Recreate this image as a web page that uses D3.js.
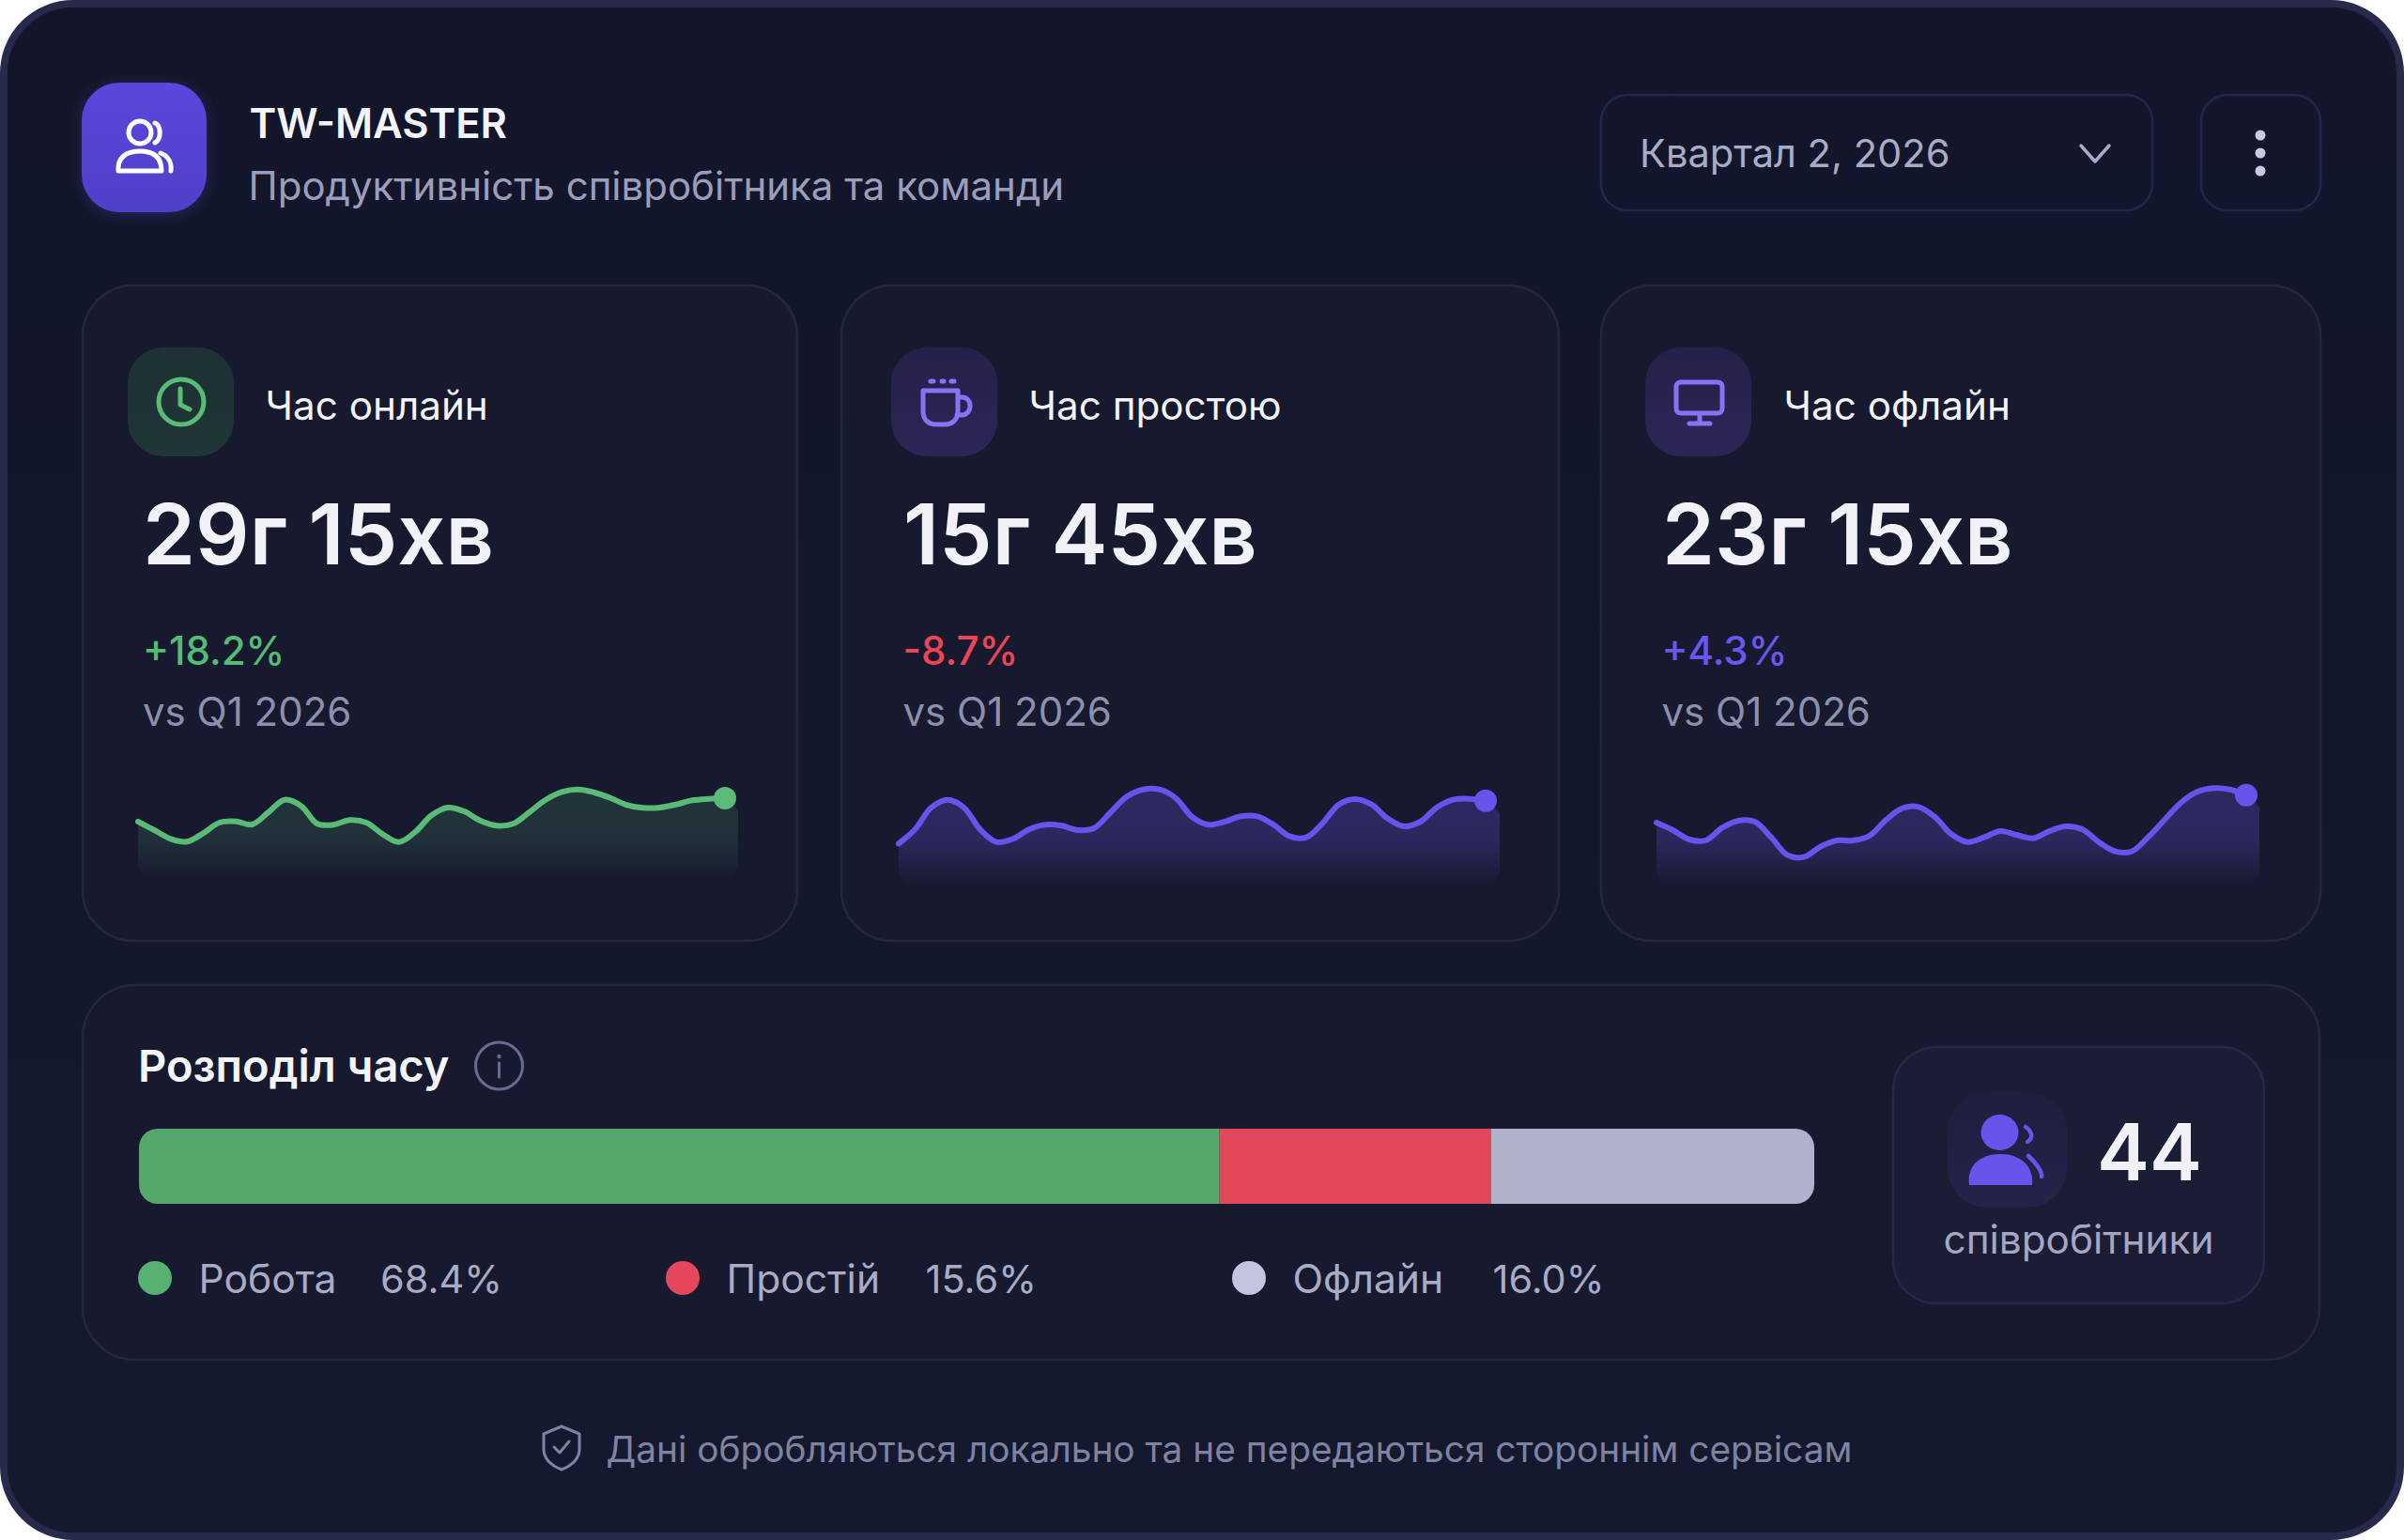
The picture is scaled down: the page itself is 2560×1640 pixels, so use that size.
<!DOCTYPE html>
<html>
<head>
<meta charset="utf-8">
<title>TW-MASTER</title>
<script src="https://cdn.jsdelivr.net/npm/d3@7"></script>
<style>
  html, body { margin: 0; padding: 0; background: #fff; }
  svg { display: block; }
  text { font-family: Inter, "Noto Sans", sans-serif; }
</style>
</head>
<body>
<div id="chart"></div>
<script>
// header texts
const appName = "TW-MASTER"
const appSubtitle = "Продуктивність співробітника та команди"
const periodLabel = "Квартал 2, 2026"

// cards
const cardNames = ["Час онлайн", "Час простою", "Час офлайн"]
const cardValues = ["29г 15хв", "15г 45хв", "23г 15хв"]
const cardDeltas = ["+18.2%", "-8.7%", "+4.3%"]
const compareLabel = "vs Q1 2026"

// sparkline levels, 37 samples each
const onlineTrend = [65, 56, 46.7, 43.7, 52.7, 64, 65.3, 62, 75, 88.3, 81.7, 62.7, 61.7, 66.7, 64, 51.7, 43.3, 54, 71.7, 80, 76, 66, 60.7, 62.7, 75, 88.3, 96.7, 99.3, 96, 90, 82.7, 79.7, 80, 83.3, 87.7, 89.3, 90]
const idleTrend = [41.7, 56.7, 80, 88.3, 80, 56.7, 43.3, 46.7, 56.7, 61.7, 60.7, 56, 58.3, 75, 91.7, 99.3, 99.3, 90, 70, 61.7, 65, 70.7, 70.7, 61.7, 49.3, 48.3, 63.3, 83.3, 89, 83.3, 68.3, 60, 65, 80, 88.3, 89.3, 87.3]
const offlineTrend = [64, 56, 46, 45, 58.3, 66, 65, 48.3, 29.3, 27.3, 38.3, 45, 45, 50, 66.7, 79.3, 80.7, 70, 51.7, 43.3, 48.3, 55, 50.7, 47.3, 55, 60, 56.7, 43.3, 33.3, 33.3, 48.3, 66.7, 85, 96.7, 100.7, 99.3, 93.3]

// time split. the drawn bar does not follow the printed percentages, so both are kept
const splitTitle = "Розподіл часу"
const splitNames = ["Робота", "Простій", "Офлайн"]
const splitLabels = ["68.4%", "15.6%", "16.0%"]
const barShares = [64.5, 16.2, 19.3]

const employeeCount = "44"
const employeeLabel = "співробітники"
const footerNote = "Дані обробляються локально та не передаються стороннім сервісам"

const W = 2560, H = 1640
const GREEN = "#5abb76", RED = "#e2475a", GREY = "#b0b1cb", PURPLE = "#6654ec", ICON = "#8674f6"

const svg = d3.select("#chart").append("svg").attr("width", W).attr("height", H).attr("viewBox", `0 0 ${W} ${H}`)
const defs = svg.append("defs")

const vGrad = (id, top, bottom) => {
  const g = defs.append("linearGradient").attr("id", id).attr("x1", 0).attr("y1", 0).attr("x2", 0).attr("y2", 1)
  g.append("stop").attr("offset", "0%").attr("stop-color", top)
  g.append("stop").attr("offset", "100%").attr("stop-color", bottom)
}
vGrad("bgGrad", "#13162a", "#15192e")
vGrad("logoGrad", "#5a47dc", "#4f40c9")
vGrad("iconGreen", "#1e3135", "#203536")
vGrad("iconPurple", "#242149", "#2c2657")
vGrad("iconPeople", "#1e1e3d", "#25234b")

defs.append("filter").attr("id", "logoGlow").attr("x", "-30%").attr("y", "-30%").attr("width", "160%").attr("height", "160%")
  .append("feGaussianBlur").attr("stdDeviation", 7)

const label = (parent, x, y, str, size, weight, fill, anchor = "start") =>
  parent.append("text").attr("x", x).attr("y", y).attr("font-size", size).attr("font-weight", weight)
    .attr("fill", fill).attr("text-anchor", anchor).text(str)

const box = (parent, x, y, w, h, r, fill, stroke) =>
  parent.append("rect").attr("x", x).attr("y", y).attr("width", w).attr("height", h).attr("rx", r)
    .attr("fill", fill).attr("stroke", stroke || "none").attr("stroke-width", stroke ? 2.5 : 0)

const outline = (parent, d, color, width) =>
  parent.append("path").attr("d", d).attr("fill", "none").attr("stroke", color).attr("stroke-width", width)
    .attr("stroke-linecap", "round").attr("stroke-linejoin", "round")

// outer shell
svg.append("rect").attr("x", 4).attr("y", 4).attr("width", W - 8).attr("height", H - 8).attr("rx", 74)
  .attr("fill", "url(#bgGrad)").attr("stroke", "#282a4c").attr("stroke-width", 8)

// header
const header = svg.append("g")
box(header, 87, 90, 133, 138, 40, "#4f40c9").attr("opacity", 0.35).attr("filter", "url(#logoGlow)")
box(header, 87, 88, 133, 138, 40, "url(#logoGrad)")
header.append("circle").attr("cx", 149).attr("cy", 141).attr("r", 12).attr("fill", "none").attr("stroke", "#fff").attr("stroke-width", 5)
outline(header, "M126 182 C125 168 134 161 149 161 C164 161 172 168 172 182 Z", "#fff", 5)
outline(header, "M165 131 C172 134 172 148 165 152", "#fff", 5)
outline(header, "M171 163 C179 166 183 173 182 182", "#fff", 5)
label(header, 265.5, 147, appName, 43.5, 600, "#f4f5fb")
label(header, 264.5, 213, appSubtitle, 42, 400, "#9b9ebb")

box(header, 1705, 101, 587, 123, 28, "none", "#23264a")
label(header, 1746, 178, periodLabel, 41.6, 400, "#a9acc6")
outline(header, "M2216 155 L2231 172 L2246 155", "#a9acc6", 3.5)

box(header, 2344, 101, 127, 123, 28, "none", "#23264a")
header.selectAll(".menu-dot").data([144, 163, 182]).join("circle")
  .attr("class", "menu-dot").attr("cx", 2407).attr("cy", d => d).attr("r", 5.5).attr("fill", "#c9cbe4")

// stat cards
const trends = [onlineTrend, idleTrend, offlineTrend]
const cardLayout = [
  { x: 88, w: 761, iconX: 136, textX: 282.5, numX: 152, subX: 152, lineX: [147, 772], areaEnd: 786, color: GREEN, iconBg: "url(#iconGreen)", delta: "#54bc74", bottom: 935, name: "a" },
  { x: 896, w: 764, iconX: 949, textX: 1095.5, numX: 962, subX: 961.5, lineX: [957, 1582], areaEnd: 1597, color: PURPLE, iconBg: "url(#iconPurple)", delta: "#ef4456", bottom: 942, name: "b" },
  { x: 1705, w: 766, iconX: 1752, textX: 1899.5, numX: 1770, subX: 1769.5, lineX: [1764, 2392], areaEnd: 2406, color: PURPLE, iconBg: "url(#iconPurple)", delta: "#6a57f0", bottom: 942, name: "c" }
]

cardLayout.forEach((c, i) => {
  const g = svg.append("g")
  box(g, c.x, 304, c.w, 698, 54, "#171a2f", "#23263f")
  box(g, c.iconX, 370, 113, 116, 38, c.iconBg)
  label(g, c.textX, 447, cardNames[i], 42.2, 400, "#f3f4fa")
  label(g, c.numX, 601, cardValues[i], 90, 600, "#f1f1f7")
  label(g, c.subX, 708, cardDeltas[i], 42, 500, c.delta)
  label(g, c.subX, 773, compareLabel, 42, 400, "#8d90ad")

  // sparkline
  const values = trends[i]
  const x = d3.scaleLinear().domain([0, values.length - 1]).range(c.lineX)
  const y = d3.scaleLinear().domain([0, 100]).range([940, 840])
  const line = d3.line().x((d, k) => x(k)).y(d => y(d)).curve(d3.curveCatmullRom.alpha(0.5))
  const areaEnd = x.invert(c.areaEnd)
  const fillPts = values.map((d, k) => [k, d]).concat([[areaEnd, values[values.length - 1] - 13]])
  const area = d3.area().x(d => x(d[0])).y0(c.bottom).y1(d => y(d[1])).curve(d3.curveCatmullRom.alpha(0.5))

  const grad = defs.append("linearGradient").attr("id", "spark" + c.name)
    .attr("gradientUnits", "userSpaceOnUse").attr("x1", 0).attr("x2", 0).attr("y1", 840).attr("y2", c.bottom)
  const topAlpha = c.color === GREEN ? 0.16 : 0.27
  grad.append("stop").attr("offset", "0%").attr("stop-color", c.color).attr("stop-opacity", topAlpha)
  grad.append("stop").attr("offset", "55%").attr("stop-color", c.color).attr("stop-opacity", topAlpha * 0.9)
  grad.append("stop").attr("offset", "100%").attr("stop-color", c.color).attr("stop-opacity", 0)
  defs.append("clipPath").attr("id", "clip" + c.name).append("rect")
    .attr("x", c.lineX[0]).attr("y", 820).attr("width", c.areaEnd - c.lineX[0]).attr("height", c.bottom - 820).attr("rx", 16)

  g.append("path").attr("d", area(fillPts)).attr("fill", `url(#spark${c.name})`).attr("clip-path", `url(#clip${c.name})`)
  g.append("path").attr("d", line(values)).attr("fill", "none").attr("stroke", c.color).attr("stroke-width", 6).attr("stroke-linecap", "round")
  g.append("circle").attr("cx", x(values.length - 1)).attr("cy", y(values[values.length - 1])).attr("r", 12).attr("fill", c.color)
})

// card icons
const clock = svg.append("g")
clock.append("circle").attr("cx", 193).attr("cy", 428).attr("r", 24).attr("fill", "none").attr("stroke", GREEN).attr("stroke-width", 5)
outline(clock, "M192 414 L192 431 L202 436", GREEN, 5)

const cup = svg.append("g")
outline(cup, "M983 416 H1020 V438 C1020 447 1014 452 1006 452 H997 C989 452 983 447 983 438 Z", ICON, 5)
outline(cup, "M1020 423 H1024 C1030 423 1033 427 1033 432 C1033 438 1029 442 1024 442 H1019", ICON, 5)
outline(cup, "M991 406 H994 M1003 406 H1005 M1013 406 H1016", ICON, 5)

const screen = svg.append("g")
outline(screen, "M1790 407 H1829 C1832 407 1834 409 1834 412 V435 C1834 438 1832 440 1829 440 H1790 C1787 440 1785 438 1785 435 V412 C1785 409 1787 407 1790 407 Z", ICON, 5)
outline(screen, "M1810 441 V450 M1799 451 H1821", ICON, 5)

// time split panel
const panel = svg.append("g")
box(panel, 88, 1049, 2382, 399, 56, "#171a2f", "#23263f")
label(panel, 147, 1152, splitTitle, 47, 600, "#f4f5fb")
panel.append("circle").attr("cx", 531.5).attr("cy", 1135).attr("r", 25).attr("fill", "none").attr("stroke", "#686b8d").attr("stroke-width", 3)
panel.append("circle").attr("cx", 531.5).attr("cy", 1125).attr("r", 2.2).attr("fill", "#686b8d")
outline(panel, "M531.5 1132 V1147", "#686b8d", 3)

const barX = d3.scaleLinear().domain([0, d3.sum(barShares)]).range([148, 1932])
const barFill = ["#55a86c", RED, GREY]
const stack = d3.stack().keys(splitNames)([Object.fromEntries(splitNames.map((n, i) => [n, barShares[i]]))])

defs.append("clipPath").attr("id", "barClip").append("rect")
  .attr("x", barX(0)).attr("y", 1202).attr("width", barX(d3.sum(barShares)) - barX(0)).attr("height", 80).attr("rx", 20)
panel.append("g").attr("clip-path", "url(#barClip)").selectAll("rect").data(stack).join("rect")
  .attr("x", d => barX(d[0][0])).attr("width", d => barX(d[0][1]) - barX(d[0][0]))
  .attr("y", 1202).attr("height", 80).attr("fill", (d, i) => barFill[i])

const legendX = [{ dot: 165, name: 211.5, value: 405 }, { dot: 727, name: 773.5, value: 985.5 }, { dot: 1330, name: 1376.5, value: 1589.5 }]
const legendDots = ["#57b271", "#e5485c", "#c4c5dc"]
legendX.forEach((p, i) => {
  panel.append("circle").attr("cx", p.dot).attr("cy", 1361).attr("r", 18).attr("fill", legendDots[i])
  label(panel, p.name, 1376.5, splitNames[i], 42.6, 400, "#a9acc6")
  label(panel, p.value, 1376.5, splitLabels[i], 41.5, 400, "#a9acc6")
})

// employees box
box(panel, 2016, 1115, 395, 273, 46, "#1a1d33", "#262943")
box(panel, 2074, 1163, 127, 123, 42, "url(#iconPeople)")
const people = panel.append("g")
people.append("ellipse").attr("cx", 2129.5).attr("cy", 1206).attr("rx", 20).attr("ry", 19).attr("fill", PURPLE)
people.append("path").attr("d", "M2097 1262 C2094 1242 2108 1229 2130 1229 C2152 1229 2166 1242 2164 1262 Z").attr("fill", PURPLE)
outline(people, "M2157 1200 C2165 1206 2165 1212 2159 1216", PURPLE, 4.5)
outline(people, "M2160 1231 C2170 1240 2175 1249 2174 1253", PURPLE, 4.5)
label(panel, 2233, 1257, employeeCount, 84, 600, "#f1f1f7")
label(panel, 2213.5, 1335, employeeLabel, 42.3, 400, "#a4a7c4", "middle")

// footer
const footer = svg.append("g")
outline(footer, "M598 1519 L617 1527 V1543 C617 1554 608 1561 598 1565 C588 1561 579 1554 579 1543 V1527 Z", "#7f83a3", 3)
outline(footer, "M590 1541 L596 1547 L606 1535", "#7f83a3", 3)
label(footer, 645.5, 1557, footerNote, 38.8, 400, "#7f83a3")
</script>
</body>
</html>
